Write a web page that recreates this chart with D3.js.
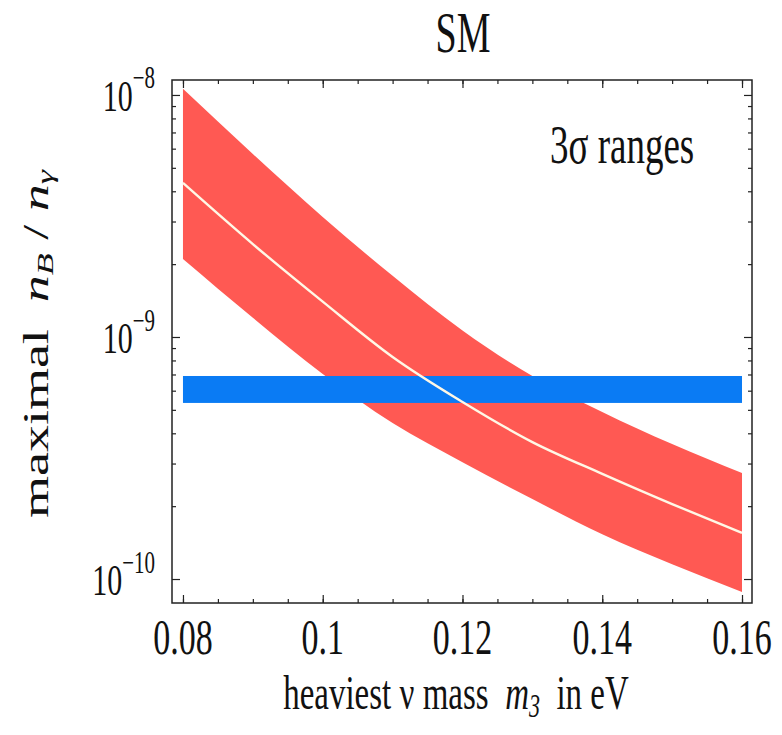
<!DOCTYPE html>
<html>
<head>
<meta charset="utf-8">
<script src="https://cdn.jsdelivr.net/npm/d3@7"></script>
<style>
  html, body { margin: 0; padding: 0; background: #fff; }
  svg { display: block; }
  text { font-family: "Liberation Serif", "DejaVu Serif", serif; fill: #111; white-space: pre; }
</style>
</head>
<body>
<svg id="chart" width="782" height="735"></svg>
<script>
// ---- data ----
const masses = [0.08, 0.09, 0.10, 0.11, 0.12, 0.13, 0.14, 0.15, 0.16];          // m3 in eV
const bandUpper = [1.06e-8, 5.70e-9, 3.13e-9, 1.79e-9, 1.064e-9, 6.90e-10, 4.90e-10, 3.61e-10, 2.74e-10];
const centralLine = [4.33e-9, 2.42e-9, 1.40e-9, 8.27e-10, 5.39e-10, 3.68e-10, 2.72e-10, 2.04e-10, 1.55e-10];
const bandLower = [2.10e-9, 1.20e-9, 7.03e-10, 4.41e-10, 3.04e-10, 2.14e-10, 1.53e-10, 1.15e-10, 8.84e-11];
const observedRange = [5.34e-10, 6.90e-10];   // horizontal band (low, high)
const observedX = [0.08, 0.16];

const xMajorTicks = [0.08, 0.10, 0.12, 0.14, 0.16];
const xTickLabels = ["0.08", "0.1", "0.12", "0.14", "0.16"];
const xMinorTicks = [0.08, 0.085, 0.09, 0.095, 0.10, 0.105, 0.11, 0.115, 0.12, 0.125, 0.13, 0.135, 0.14, 0.145, 0.15, 0.155, 0.16];
const yMajorTicks = [1e-10, 1e-9, 1e-8];
const yTickExponents = ["−10", "−9", "−8"];
const yMinorTicks = [2e-10,3e-10,4e-10,5e-10,6e-10,7e-10,8e-10,9e-10,2e-9,3e-9,4e-9,5e-9,6e-9,7e-9,8e-9,9e-9];

// ---- layout ----
const W = 782, H = 735;
const plot = {left: 172, right: 752, top: 80, bottom: 603};
const STRETCH = 1.5;   // the reference's text is tall and narrow

const svg = d3.select("#chart");
svg.append("rect").attr("width", W).attr("height", H).attr("fill", "#fff");

const x = d3.scaleLinear().domain([0.07843, 0.16143]).range([plot.left, plot.right]);
const y = d3.scaleLog().domain([7.96e-11, 1.153e-8]).range([plot.bottom, plot.top]);

svg.append("clipPath").attr("id", "clip")
  .append("rect").attr("x", plot.left).attr("y", plot.top)
  .attr("width", plot.right - plot.left).attr("height", plot.bottom - plot.top);

const rows = masses.map((m, i) => ({m, lo: bandLower[i], hi: bandUpper[i], c: centralLine[i]}));
const gPlot = svg.append("g").attr("clip-path", "url(#clip)");

const area = d3.area().x(d => x(d.m)).y0(d => y(d.lo)).y1(d => y(d.hi)).curve(d3.curveMonotoneX);
gPlot.append("path").datum(rows).attr("d", area).attr("fill", "#ff5953");

gPlot.append("rect")
  .attr("x", x(observedX[0])).attr("width", x(observedX[1]) - x(observedX[0]))
  .attr("y", y(observedRange[1])).attr("height", y(observedRange[0]) - y(observedRange[1]))
  .attr("fill", "#0a7bf4");

const line = d3.line().x(d => x(d.m)).y(d => y(d.c)).curve(d3.curveMonotoneX);
gPlot.append("path").datum(rows).attr("d", line)
  .attr("fill", "none").attr("stroke", "#fff8e6").attr("stroke-width", 2.4);

// ---- frame axes (ticks inward on all four sides) ----
function styleAxis(g) {
  g.select(".domain").remove();
  g.selectAll("line").attr("stroke", "#222").attr("stroke-width", 1.2);
}
svg.append("g").attr("transform", `translate(0,${plot.bottom})`)
  .call(d3.axisBottom(x).tickValues(xMinorTicks).tickSize(-4).tickFormat("")).call(styleAxis);
svg.append("g").attr("transform", `translate(0,${plot.bottom})`)
  .call(d3.axisBottom(x).tickValues(xMajorTicks).tickSize(-8).tickFormat("")).call(styleAxis);
svg.append("g").attr("transform", `translate(0,${plot.top})`)
  .call(d3.axisTop(x).tickValues(xMinorTicks).tickSize(-4).tickFormat("")).call(styleAxis);
svg.append("g").attr("transform", `translate(0,${plot.top})`)
  .call(d3.axisTop(x).tickValues(xMajorTicks).tickSize(-8).tickFormat("")).call(styleAxis);
svg.append("g").attr("transform", `translate(${plot.left},0)`)
  .call(d3.axisLeft(y).tickValues(yMinorTicks).tickSize(-4).tickFormat("")).call(styleAxis);
svg.append("g").attr("transform", `translate(${plot.left},0)`)
  .call(d3.axisLeft(y).tickValues(yMajorTicks).tickSize(-8).tickFormat("")).call(styleAxis);
svg.append("g").attr("transform", `translate(${plot.right},0)`)
  .call(d3.axisRight(y).tickValues(yMinorTicks).tickSize(-4).tickFormat("")).call(styleAxis);
svg.append("g").attr("transform", `translate(${plot.right},0)`)
  .call(d3.axisRight(y).tickValues(yMajorTicks).tickSize(-8).tickFormat("")).call(styleAxis);

svg.append("rect").attr("x", plot.left).attr("y", plot.top)
  .attr("width", plot.right - plot.left).attr("height", plot.bottom - plot.top)
  .attr("fill", "none").attr("stroke", "#222").attr("stroke-width", 1.5);

// ---- text ----
function stext(px, py, size, anchor, rotate) {
  const g = svg.append("g")
    .attr("transform", `translate(${px},${py}) scale(1,${STRETCH})` + (rotate ? " rotate(-90)" : ""));
  return g.append("text").attr("font-size", size).attr("text-anchor", anchor);
}

// x tick labels
xMajorTicks.forEach((v, i) => {
  stext(x(v), 654, 34, "middle").text(xTickLabels[i]);
});

// y tick labels
yMajorTicks.forEach((v, i) => {
  const t = stext(155, y(v) + 16, 30, "end");
  t.append("tspan").text("10");
  t.append("tspan").attr("font-size", 21).attr("dy", -15).text(yTickExponents[i]);
});

// title
stext(463, 52, 38, "middle").text("SM");

// annotation
stext(550, 163, 37, "start").text("3σ ranges");

// x-axis title
{
  const t = stext(456, 709, 33, "middle");
  t.append("tspan").text("heaviest ν mass  ");
  t.append("tspan").attr("font-style", "italic").text("m");
  t.append("tspan").attr("font-style", "italic").attr("font-size", 22).attr("dy", 5).text("3");
  t.append("tspan").attr("dy", -5).text("  in eV");
}

// y-axis title
{
  const t = stext(48, 344, 36, "middle", true);
  t.append("tspan").text("maximal  ");
  t.append("tspan").attr("font-style", "italic").text("n");
  t.append("tspan").attr("font-style", "italic").attr("font-size", 24).attr("dy", 5).text("B");
  t.append("tspan").attr("dy", -5).text(" / ");
  t.append("tspan").attr("font-style", "italic").text("n");
  t.append("tspan").attr("font-style", "italic").attr("font-size", 24).attr("dy", 5).text("γ");
}
</script>
</body>
</html>
